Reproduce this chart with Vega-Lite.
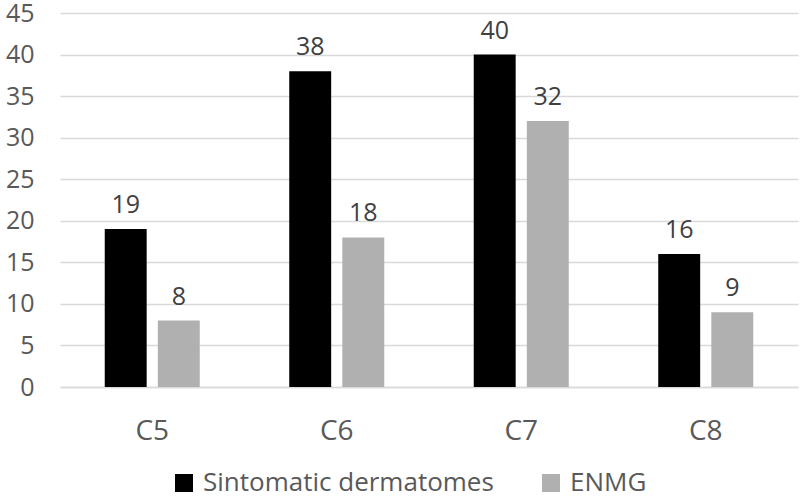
{
  "$schema": "https://vega.github.io/schema/vega-lite/v6.json",
  "width": 738,
  "height": 374,
  "autosize": {"type": "none"},
  "padding": {"left": 60, "top": 13, "right": 2, "bottom": 115},
  "background": "white",
  "data": {
    "values": [
      {"level": "C5", "series": "Sintomatic dermatomes", "value": 19},
      {"level": "C5", "series": "ENMG", "value": 8},
      {"level": "C6", "series": "Sintomatic dermatomes", "value": 38},
      {"level": "C6", "series": "ENMG", "value": 18},
      {"level": "C7", "series": "Sintomatic dermatomes", "value": 40},
      {"level": "C7", "series": "ENMG", "value": 32},
      {"level": "C8", "series": "Sintomatic dermatomes", "value": 16},
      {"level": "C8", "series": "ENMG", "value": 9}
    ]
  },
  "encoding": {
    "x": {
      "field": "level", "type": "nominal",
      "scale": {"paddingInner": 0.485, "paddingOuter": 0.2425},
      "axis": {"title": null, "labelAngle": 0, "labelFont": "Open Sans", "labelFontSize": 28, "labelColor": "#595959", "ticks": false, "domain": true, "domainColor": "#d9d9d9", "domainWidth": 1.5, "labelPadding": 30}
    },
    "xOffset": {"field": "series", "type": "nominal", "sort": ["Sintomatic dermatomes", "ENMG"], "scale": {"paddingInner": 0.21}},
    "y": {
      "field": "value", "type": "quantitative",
      "scale": {"domain": [0, 45]},
      "axis": {"title": null, "values": [0,5,10,15,20,25,30,35,40,45], "labelFont": "Open Sans", "labelFontSize": 25, "labelColor": "#595959", "ticks": false, "domain": false, "gridColor": "#d9d9d9", "gridWidth": 1.5, "labelPadding": 26}
    }
  },
  "layer": [
    {
      "mark": {"type": "bar"},
      "encoding": {
        "color": {
          "field": "series", "type": "nominal",
          "sort": ["Sintomatic dermatomes", "ENMG"],
          "scale": {"domain": ["Sintomatic dermatomes", "ENMG"], "range": ["#000000", "#b0b0b0"]},
          "legend": {"title": null, "orient": "none", "legendX": 111, "legendY": 457, "direction": "horizontal", "symbolType": "square", "symbolSize": 324, "symbolStrokeWidth": 0, "labelFont": "Open Sans", "labelFontSize": 26, "labelColor": "#595959", "labelLimit": 0, "columnPadding": 44, "labelOffset": 6}
        }
      }
    },
    {
      "mark": {"type": "text", "baseline": "alphabetic", "dy": -16, "font": "Open Sans", "fontSize": 25, "color": "#404040"},
      "encoding": {"text": {"field": "value", "type": "quantitative"}}
    }
  ],
  "config": {"view": {"stroke": null}}
}
